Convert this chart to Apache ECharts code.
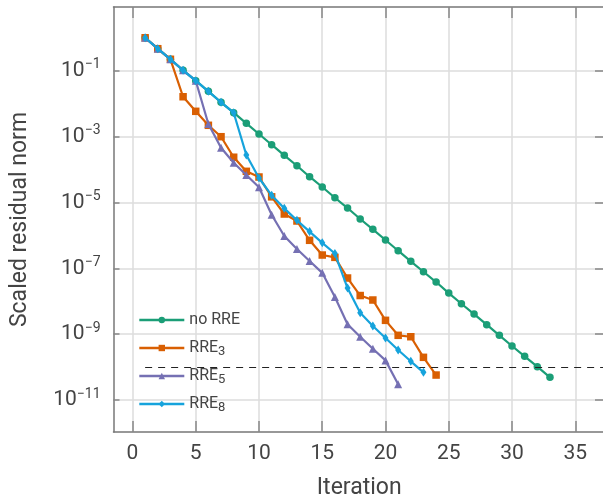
<!DOCTYPE html>
<html>
<head>
<meta charset="utf-8">
<script src="https://cdn.jsdelivr.net/npm/echarts@6/dist/echarts.min.js"></script>
<style>
html,body{margin:0;padding:0;background:#fff;}
#main{width:603px;height:500px;}
</style>
</head>
<body>
<div id="main"></div>
<script>
var iterations = [1,2,3,4,5,6,7,8,9,10,11,12,13,14,15,16,17,18,19,20,21,22,23,24,25,26,27,28,29,30,31,32,33];
var noRRE = [1.00,0.466,0.222,0.103,0.0497,0.0237,0.0110,5.31e-3,2.53e-3,1.20e-3,5.66e-4,2.70e-4,1.30e-4,6.04e-5,2.94e-5,1.39e-5,6.76e-6,3.14e-6,1.53e-6,7.23e-7,3.42e-7,1.63e-7,7.87e-8,3.83e-8,1.77e-8,8.39e-9,4.08e-9,1.94e-9,9.23e-10,4.37e-10,2.12e-10,1.03e-10,4.89e-11];
var rre3 = [1.00,0.466,0.222,1.62e-2,5.85e-3,2.20e-3,9.91e-4,2.36e-4,8.81e-5,5.92e-5,1.48e-5,4.45e-6,2.73e-6,7.08e-7,2.53e-7,2.15e-7,5.07e-8,1.49e-8,1.09e-8,2.63e-9,9.23e-10,8.36e-10,1.98e-10,5.74e-11];
var rre5 = [1.00,0.466,0.222,0.103,0.0497,2.40e-3,4.59e-4,1.61e-4,6.81e-5,2.88e-5,4.24e-6,9.55e-7,3.85e-7,1.66e-7,7.28e-8,1.34e-8,1.99e-9,8.36e-10,3.61e-10,1.60e-10,3.00e-11];
var rre8 = [1.00,0.466,0.222,0.103,0.0497,0.0237,0.0110,5.31e-3,2.75e-4,5.52e-5,1.64e-5,6.62e-6,2.86e-6,1.30e-6,5.94e-7,2.81e-7,2.52e-8,4.48e-9,1.77e-9,7.64e-10,3.30e-10,1.50e-10,6.93e-11];
var tolerance = 1e-10;
var xTicks = [0,5,10,15,20,25,30,35];
var yTicks = [1e-11,1e-9,1e-7,1e-5,1e-3,1e-1];
var seriesNames = ['no RRE','RRE3','RRE5','RRE8'];

function pairs(vals){ return vals.map(function(v,i){ return [iterations[i], v]; }); }

var FONT = 'Roboto';
var chart = echarts.init(document.getElementById('main'), null, {renderer:'canvas'});
var axisLineStyle = {color:'#777', width:1.5};
var gridLineStyle = {color:'#dcdcdc', width:1.5};
var xMin = -1.5, xMax = 37.35, yMin = 1.07e-12, yMax = 8.6;

var option = {
  backgroundColor:'#fff',
  animation:false,
  textStyle:{fontFamily:FONT},
  grid:{left:113.5, top:7, right:-2, bottom:68, containLabel:false, outerBoundsMode:'none'},
  legend:{
    orient:'vertical', left:138, top:312, padding:0,
    itemWidth:45, itemHeight:8, itemGap:9.5,
    lineStyle:{width:2.6},
    textStyle:{fontFamily:FONT, fontSize:16, color:'#444',
      rich:{sub:{fontSize:13, color:'#444', fontFamily:FONT, padding:[8,0,0,0]}}},
    formatter:function(name){
      var m = name.match(/^RRE(\d+)$/);
      return m ? 'RRE{sub|' + m[1] + '}' : name + '{sub| }';
    },
    data:seriesNames
  },
  xAxis:[{
    type:'value', min:xMin, max:xMax, position:'bottom',
    name:'Iteration', nameLocation:'middle', nameGap:45,
    nameTextStyle:{fontFamily:FONT, fontSize:23, color:'#444'},
    axisLine:{show:true, onZero:false, lineStyle:axisLineStyle},
    axisTick:{show:true, inside:true, length:11, customValues:xTicks, lineStyle:{color:'#888', width:1.5}},
    axisLabel:{customValues:xTicks, fontFamily:FONT, fontSize:21, color:'#444', margin:11},
    splitLine:{show:true, lineStyle:gridLineStyle}
  },{
    type:'value', min:xMin, max:xMax, position:'top',
    axisLine:{show:true, onZero:false, lineStyle:axisLineStyle},
    axisTick:{show:true, inside:true, length:11, customValues:xTicks, lineStyle:{color:'#888', width:1.5}},
    axisLabel:{show:false},
    splitLine:{show:false}
  }],
  yAxis:[{
    type:'log', logBase:10, min:yMin, max:yMax, position:'left',
    name:'Scaled residual norm', nameLocation:'middle', nameGap:82,
    nameTextStyle:{fontFamily:FONT, fontSize:23, color:'#444'},
    axisLine:{show:true, onZero:false, lineStyle:axisLineStyle},
    axisTick:{show:true, inside:true, length:6, customValues:yTicks, lineStyle:{color:'#888', width:1.5}},
    axisLabel:{customValues:yTicks, fontFamily:FONT, fontSize:21, color:'#444', margin:13,
      formatter:function(v){ var e = Math.round(Math.log10(v)); return '10{sup|' + (e<0?'\u2212':'') + Math.abs(e) + '}'; },
      rich:{sup:{fontSize:14, color:'#444', fontFamily:FONT, padding:[0,0,12,0]}}},
    splitLine:{show:true, lineStyle:gridLineStyle},
    minorSplitLine:{show:false}
  },{
    type:'log', logBase:10, min:yMin, max:yMax, position:'right',
    axisLine:{show:true, onZero:false, lineStyle:axisLineStyle},
    axisTick:{show:true, inside:true, length:10, customValues:yTicks, lineStyle:{color:'#888', width:1.5}},
    axisLabel:{show:false},
    splitLine:{show:false}
  }],
  series:[
    {name:'no RRE', type:'line', data:pairs(noRRE), color:'#1b9e77', symbol:'circle', symbolSize:7.5,
     lineStyle:{width:2.2}, itemStyle:{color:'#1b9e77'}, z:2,
     markLine:{silent:true, symbol:['none','none'], label:{show:false},
       lineStyle:{color:'#222', type:[7,6], width:1.2},
       data:[[{coord:[iterations[0], tolerance]},{coord:[xMax, tolerance]}]]}},
    {name:'RRE3', type:'line', data:pairs(rre3), color:'#d95f02', symbol:'rect', symbolSize:7.5,
     lineStyle:{width:2.2}, itemStyle:{color:'#d95f02'}, z:3},
    {name:'RRE5', type:'line', data:pairs(rre5), color:'#7570b3', symbol:'triangle', symbolSize:8,
     lineStyle:{width:2.2}, itemStyle:{color:'#7570b3'}, z:4},
    {name:'RRE8', type:'line', data:pairs(rre8), color:'#16a3dc', symbol:'diamond', symbolSize:[6,9],
     lineStyle:{width:2.2}, itemStyle:{color:'#16a3dc'}, z:5}
  ]
};
chart.setOption(option);
</script>
</body>
</html>
